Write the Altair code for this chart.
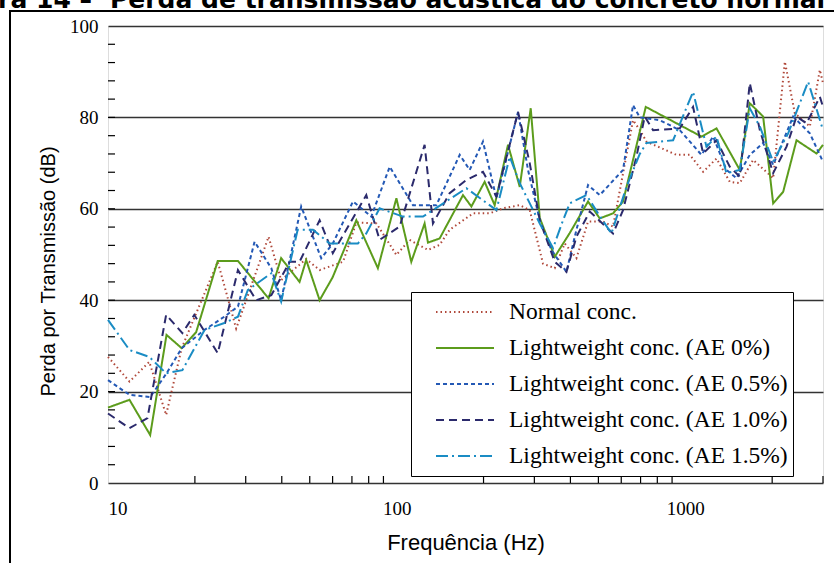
import altair as alt
import pandas as pd

series_names = [
    "Normal conc.",
    "Lightweight conc. (AE 0%)",
    "Lightweight conc. (AE 0.5%)",
    "Lightweight conc. (AE 1.0%)",
    "Lightweight conc. (AE 1.5%)",
]
series_colors = ["#b0483a", "#5c9c1c", "#2459b5", "#2b2a6c", "#1a8cc4"]
series_dashes = [[1.5, 3], [1, 0], [4, 3], [8, 5], [12, 4, 2, 4]]

normal_f = [10, 11.87, 13.9, 15.9, 18.0, 20.2, 24.0, 27.8, 36.0, 39.8, 48.6, 54.1, 65.2, 72.5,
            85.1, 99.8, 110.9, 128.4, 140.9, 152.6, 183.9, 210.1, 233.6, 267, 289.1, 321.5,
            353, 382.3, 419.7, 460.4, 518.9, 562, 659.2, 700, 733.7, 932.4, 1037, 1153, 1283,
            1426, 1545, 1718, 2016, 2213, 2396, 2701, 2926, 3000]
normal_v = [27.6, 22.2, 26.5, 14.9, 29.5, 37.1, 48.4, 33.8, 53.9, 44.4, 49.0, 46.6, 48.4, 57.0,
            56.8, 49.9, 53.2, 51.0, 52.1, 55.4, 59.0, 59.0, 60.1, 60.8, 59.7, 48.0,
            47.0, 52.4, 49.2, 57.2, 57.2, 56.1, 79.4, 77.0, 74.7, 71.8, 71.8, 68.1, 71.0,
            65.9, 65.6, 70.7, 66.7, 92.2, 80.9, 78.0, 90.4, 87.5]

ae0_f = [10, 11.87, 14.0, 15.95, 18.0, 20.2, 24.0, 28.2, 36.0, 39.8, 46.1, 48.6, 54.1, 60.0,
         72.5, 86.1, 99.8, 112.4, 125, 128.4, 140.9, 169.8, 181.5, 201.8, 218.6, 243.1, 267,
         291.4, 313.2, 353, 397.9, 460.4, 505.4, 562, 608.6, 729.6, 1138, 1283, 1545, 1673,
         1861, 2016, 2183, 2429, 2849, 3000]
ae0_v = [16.5, 18.2, 10.5, 32.4, 29.5, 33.0, 48.6, 48.6, 40.4, 49.2, 44.0, 48.8, 40.0, 45.0,
         57.5, 47.0, 62.3, 48.4, 56.8, 52.6, 53.5, 63.0, 60.5, 65.9, 60.8, 74.0, 64.8,
         82.0, 58.0, 49.5, 54.7, 61.6, 57.9, 59.0, 61.6, 82.3, 75.8, 77.6, 68.5, 83.1,
         80.2, 61.2, 63.7, 75.0, 72.1, 74.0]

ae05_f = [10, 11.87, 14.0, 15.95, 18.0, 21.6, 25.3, 28.2, 32.2, 36.8, 39.8, 46.7, 54.8, 60.1,
          70.6, 81.7, 94.6, 113.9, 137.3, 165.4, 179.1, 199.1, 221.6, 263.4, 285.2, 313.2,
          343.8, 387.5, 419.7, 460.4, 505.4, 608.6, 659.2, 695.5, 815.8, 957.2, 1138, 1249,
          1389, 1505, 1673, 1861, 2016, 2364, 2701, 3000]
ae05_v = [22.5, 19.3, 18.8, 24.0, 29.5, 33.5, 36.4, 38.6, 52.8, 47.0, 40.0, 60.5, 49.2, 52.4,
          61.6, 58.3, 69.2, 60.8, 60.8, 71.8, 68.5, 74.7, 62.3, 81.2, 68.5, 57.5,
          51.0, 46.2, 55.4, 65.2, 63.0, 68.5, 82.7, 80.0, 79.4, 77.2, 71.8, 75.8,
          68.5, 66.7, 71.8, 74.4, 69.6, 80.2, 76.5, 70.3]

ae10_f = [10, 11.87, 13.7, 15.9, 18.1, 19.9, 24.0, 28.2, 32.6, 36.8, 42.6, 46.1, 54.1, 60.1,
          78.5, 87.3, 102.4, 125, 133.6, 152.6, 174.4, 199.1, 221.6, 263.4, 289.1, 313.2,
          353, 387.5, 419.7, 466.7, 562, 608.6, 677.3, 723.8, 773.4, 957.2, 1064, 1153, 1283,
          1426, 1545, 1673, 1813, 2016, 2243, 2429, 2631, 2926, 3000]
ae10_v = [15.2, 12.0, 14.2, 36.8, 32.8, 36.8, 28.4, 46.6, 40.0, 41.1, 48.4, 48.4, 57.5, 50.3,
          63.0, 53.2, 56.1, 74.0, 56.8, 63.4, 66.3, 68.1, 62.7, 81.2, 70.0, 57.5,
          48.4, 46.2, 53.9, 59.4, 54.6, 59.7, 71.4, 80.2, 77.2, 77.6, 82.3, 72.1, 75.0,
          69.2, 67.0, 87.5, 77.2, 67.8, 73.6, 80.2, 78.7, 84.5, 82.3]

ae15_f = [10, 11.87, 13.9, 15.9, 18.1, 21.6, 25.3, 28.2, 30.5, 36.8, 39.8, 45.4, 51.3, 58.6,
          73.4, 78.5, 87.3, 105.1, 123.4, 174.4, 221.6, 246.5, 267, 313.2, 348.3, 377.1,
          397.9, 454.6, 498.6, 554.9, 625.4, 695.5, 733.7, 907.4, 1064, 1184, 1283, 1389,
          1545, 1673, 1813, 2016, 2272, 2665, 3000]
ae15_v = [35.7, 29.1, 27.6, 24.0, 24.7, 33.5, 35.0, 36.4, 42.2, 45.9, 39.7, 55.4, 55.4, 52.4,
          52.4, 54.6, 60.1, 58.3, 58.3, 64.5, 59.7, 71.4, 65.6, 56.8, 51.4, 57.5,
          61.2, 63.0, 59.0, 54.6, 64.8, 72.0, 74.4, 75.0, 85.6, 73.6, 75.8, 67.8,
          68.5, 82.0, 78.0, 70.3, 76.5, 87.8, 77.2]

y_minor_ticks = [v for v in range(4, 100, 4)]
x_minor_ticks = [20, 30, 40, 50, 60, 70, 80, 90, 200, 300, 400, 500, 600, 700, 800, 900, 2000, 3000]

freqs = [normal_f, ae0_f, ae05_f, ae10_f, ae15_f]
vals = [normal_v, ae0_v, ae05_v, ae10_v, ae15_v]
rows = []
for name, fs, vs in zip(series_names, freqs, vals):
    for i, (f, v) in enumerate(zip(fs, vs)):
        rows.append({"series": name, "freq": f, "tl": v, "idx": i})
df = pd.DataFrame(rows)

W, H = 715, 457
serif = "Liberation Serif"
sans = "Liberation Sans"

xscale = alt.Scale(type="log", domain=[10, 3000], nice=False)
yscale = alt.Scale(domain=[0, 100], nice=False, zero=True)

legend = alt.Legend(orient="none", legendX=303, legendY=266, title=None,
                    symbolType="stroke", symbolSize=3364, symbolStrokeWidth=2,
                    symbolOffset=19, labelOffset=14, clipHeight=30, rowPadding=6,
                    labelFont=serif, labelFontSize=23.5, labelColor="black",
                    labelLimit=500, padding=5,
                    strokeColor="black", fillColor="white")

lines = alt.Chart(df).mark_line(strokeWidth=2).encode(
    x=alt.X("freq:Q", scale=xscale,
            axis=alt.Axis(values=[10, 100, 1000], format="d", title="Frequência (Hz)",
                          labelFont=serif, labelFontSize=19, labelColor="black",
                          labelPadding=16, ticks=False, domain=False, grid=False,
                          titleFont=sans, titleFontSize=22, titleFontWeight="normal",
                          titleColor="black", titlePadding=14)),
    y=alt.Y("tl:Q", scale=yscale,
            axis=alt.Axis(values=[0, 20, 40, 60, 80, 100], title="Perda por Transmissão (dB)",
                          labelFont=serif, labelFontSize=19, labelColor="black",
                          labelPadding=10, ticks=False, domain=False, grid=True,
                          gridColor="#333333", gridWidth=1.5,
                          titleFont=sans, titleFontSize=20, titleFontWeight="normal",
                          titleColor="black", titlePadding=11, titleY=245)),
    color=alt.Color("series:N", scale=alt.Scale(domain=series_names, range=series_colors),
                    legend=legend),
    strokeDash=alt.StrokeDash("series:N", scale=alt.Scale(domain=series_names, range=series_dashes),
                              legend=legend),
    order="idx:Q",
)

yt = alt.Chart(pd.DataFrame({"v": y_minor_ticks})).mark_rule(color="black", strokeWidth=1.2).encode(
    y=alt.Y("v:Q", scale=yscale), x=alt.value(0), x2=alt.value(7))
xt = alt.Chart(pd.DataFrame({"f": x_minor_ticks})).mark_rule(color="black", strokeWidth=1.2).encode(
    x=alt.X("f:Q", scale=xscale), y=alt.value(H), y2=alt.value(H - 7))

frame = alt.Chart(pd.DataFrame({"a": [0]})).mark_rect(
    fill=None, stroke="black", strokeWidth=2, clip=False).encode(
    x=alt.value(-98), x2=alt.value(740), y=alt.value(-15), y2=alt.value(560))

title_a = alt.Chart(pd.DataFrame({"t": ["Figura 14 –"]})).mark_text(
    font="DejaVu Sans", fontWeight="bold", fontSize=25, align="right", baseline="alphabetic",
    color="black").encode(text="t:N", x=alt.value(-16), y=alt.value(-18))
title_b = alt.Chart(pd.DataFrame({"t": ["Perda de transmissão acústica do concreto normal e leve"]})).mark_text(
    font="DejaVu Sans", fontWeight="bold", fontSize=25, align="left", baseline="alphabetic",
    color="black").encode(text="t:N", x=alt.value(2), y=alt.value(-18))

chart = alt.layer(frame, lines, yt, xt, title_a, title_b).properties(
    width=W, height=H,
    autosize=alt.AutoSizeParams(type="none"),
    padding={"left": 108, "top": 26, "right": 11, "bottom": 80},
).configure_view(stroke="black", strokeWidth=2).configure(background="white")

chart.save("out.html", embed_options={"renderer": "svg", "actions": False})
